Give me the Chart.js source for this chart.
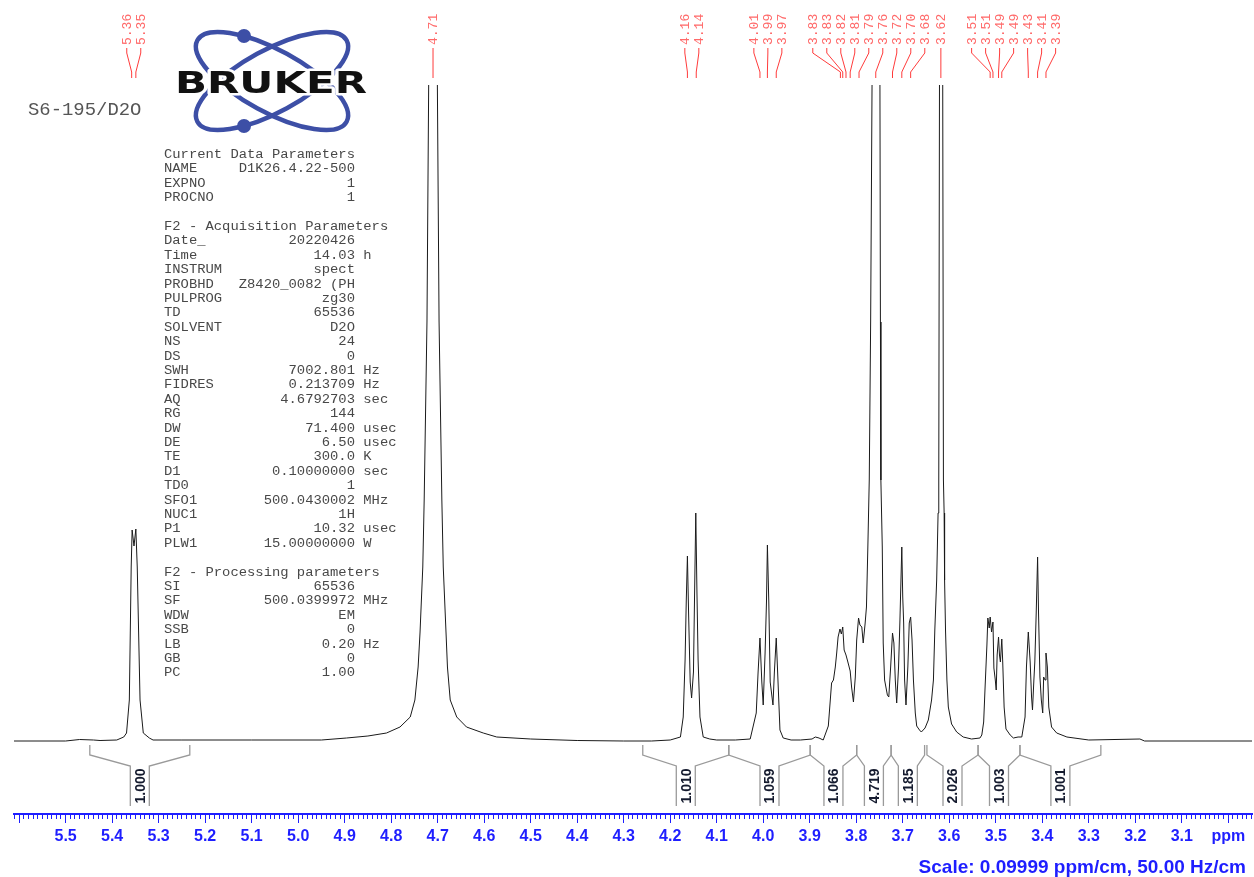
<!DOCTYPE html>
<html>
<head>
<meta charset="utf-8">
<title>S6-195/D2O</title>
<script src="https://cdn.jsdelivr.net/npm/chart.js@4.4.1/dist/chart.umd.min.js"></script>
<style>
  html, body { margin: 0; padding: 0; background: #fff; }
  canvas { display: block; }
</style>
</head>
<body>
<canvas id="nmr" width="1254" height="877"></canvas>
<script>
// 1H trace, [shift (ppm), intensity], left to right
const traceAnomeric = [
  [5.611, 1], [5.50, 1], [5.47, 2.5], [5.44, 2], [5.426, 1.5], [5.390, 2], [5.375, 5], [5.369, 9],
  [5.363, 42], [5.361, 109], [5.359, 175], [5.357, 212], [5.353, 196], [5.349, 213], [5.346, 175],
  [5.343, 109], [5.340, 42], [5.333, 9], [5.320, 4], [5.312, 2], [5.25, 2], [5.10, 2], [4.95, 2]
];
const traceWater = [
  [4.896, 4], [4.850, 6], [4.810, 9], [4.781, 15], [4.759, 25], [4.749, 42], [4.742, 75], [4.738, 109],
  [4.732, 175], [4.729, 242], [4.723, 420], [4.719, 680], [4.714, 1200], [4.710, 1500], [4.706, 1200],
  [4.701, 680], [4.697, 420], [4.691, 242], [4.688, 175], [4.682, 109], [4.679, 75], [4.673, 42],
  [4.659, 25], [4.638, 15], [4.602, 9], [4.573, 5], [4.50, 3], [4.40, 1.5], [4.30, 1]
];
const traceH4 = [
  [4.24, 1], [4.200, 2], [4.178, 5], [4.172, 25], [4.168, 82], [4.1655, 140], [4.163, 186], [4.1605, 130],
  [4.157, 60], [4.154, 44], [4.150, 70], [4.1475, 150], [4.145, 229], [4.1425, 150], [4.140, 82],
  [4.136, 25], [4.129, 5], [4.115, 3], [4.100, 2]
];
const traceH3 = [
  [4.06, 2], [4.028, 3], [4.015, 29], [4.011, 70], [4.007, 104], [4.003, 60], [4.000, 37], [3.996, 89],
  [3.993, 140], [3.991, 197], [3.988, 140], [3.985, 60], [3.979, 37], [3.976, 70], [3.972, 104],
  [3.969, 70], [3.964, 12], [3.957, 4], [3.94, 2], [3.92, 2], [3.895, 3], [3.888, 5], [3.880, 4], [3.871, 2]
];
const traceRing = [
  [3.860, 16], [3.853, 59], [3.849, 62], [3.845, 75], [3.842, 89], [3.839, 105], [3.835, 113], [3.832, 108],
  [3.829, 115], [3.826, 92], [3.822, 87], [3.818, 80], [3.813, 71], [3.810, 55], [3.806, 40], [3.802, 65],
  [3.799, 102], [3.795, 124], [3.792, 117], [3.788, 115], [3.785, 99], [3.781, 118], [3.778, 135],
  [3.775, 195], [3.772, 262], [3.769, 420], [3.766, 657], [3.762, 1300], [3.758, 1500], [3.754, 1300],
  [3.749, 657], [3.748, 420], [3.747, 262], [3.744, 195], [3.742, 99], [3.739, 62], [3.733, 47], [3.730, 45],
  [3.726, 75], [3.722, 109], [3.719, 99], [3.716, 62], [3.713, 39], [3.709, 75], [3.706, 122], [3.702, 195],
  [3.700, 145], [3.698, 119], [3.696, 62], [3.693, 37], [3.689, 75], [3.686, 119], [3.683, 125], [3.680, 102],
  [3.677, 62], [3.673, 29], [3.670, 16], [3.664, 12], [3.660, 10], [3.652, 14], [3.645, 22], [3.638, 42],
  [3.634, 62], [3.631, 112], [3.627, 162], [3.624, 229], [3.6225, 262], [3.621, 657], [3.6175, 1400],
  [3.614, 657], [3.6125, 262], [3.611, 229], [3.610, 162], [3.608, 112], [3.605, 62], [3.602, 35],
  [3.595, 18], [3.584, 10], [3.570, 5], [3.552, 3]
];
const traceH2 = [
  [3.534, 4], [3.530, 7], [3.526, 20], [3.523, 54], [3.519, 97], [3.517, 124], [3.514, 114], [3.512, 125],
  [3.509, 110], [3.506, 120], [3.504, 74], [3.501, 62], [3.499, 52], [3.497, 87], [3.494, 105], [3.492, 87],
  [3.490, 80], [3.487, 103], [3.485, 80], [3.482, 35], [3.478, 13], [3.469, 7], [3.462, 4], [3.452, 5],
  [3.444, 5], [3.437, 25], [3.434, 75], [3.430, 110], [3.428, 95], [3.426, 80], [3.423, 45], [3.421, 32],
  [3.418, 62], [3.416, 80], [3.413, 129], [3.410, 185], [3.408, 129], [3.405, 65], [3.402, 42], [3.399, 29],
  [3.397, 65], [3.394, 62], [3.392, 89], [3.389, 75], [3.386, 35], [3.380, 15], [3.369, 9], [3.347, 5],
  [3.30, 2], [3.19, 3], [3.18, 1], [3.05, 1], [2.949, 1]
];

// peak picking (ppm), high to low
const pickedShifts = [5.358, 5.349, 4.710, 4.163, 4.144, 4.007, 3.991, 3.972,
  3.834, 3.829, 3.822, 3.813, 3.794, 3.758, 3.722, 3.702, 3.683, 3.618,
  3.512, 3.506, 3.494, 3.487, 3.430, 3.410, 3.392];

// integration regions
const integralFrom = [5.448, 4.259, 4.074, 3.899, 3.799, 3.725, 3.648, 3.538, 3.448];
const integralTo = [5.233, 4.074, 3.899, 3.799, 3.725, 3.653, 3.538, 3.448, 3.274];
const integralValue = [1.000, 1.010, 1.059, 1.066, 4.719, 1.185, 2.026, 1.003, 1.001];

// axis
const axisMin = 2.949, axisMax = 5.611;
const axisTicks = [3.0, 3.1, 3.2, 3.3, 3.4, 3.5, 3.6, 3.7, 3.8, 3.9, 4.0, 4.1, 4.2, 4.3,
  4.4, 4.5, 4.6, 4.7, 4.8, 4.9, 5.0, 5.1, 5.2, 5.3, 5.4, 5.5, 5.6];
const minorTicks = [];
for (let k = 295; k <= 561; k++) minorTicks.push(k / 100);

const paramRows = [
  ['Current Data Parameters'],
  ['NAME', 'D1K26.4.22-500'],
  ['EXPNO', '1'],
  ['PROCNO', '1'],
  [],
  ['F2 - Acquisition Parameters'],
  ['Date_', '20220426'],
  ['Time', '14.03', 'h'],
  ['INSTRUM', 'spect'],
  ['PROBHD', 'Z8420_0082 (PH'],
  ['PULPROG', 'zg30'],
  ['TD', '65536'],
  ['SOLVENT', 'D2O'],
  ['NS', '24'],
  ['DS', '0'],
  ['SWH', '7002.801', 'Hz'],
  ['FIDRES', '0.213709', 'Hz'],
  ['AQ', '4.6792703', 'sec'],
  ['RG', '144'],
  ['DW', '71.400', 'usec'],
  ['DE', '6.50', 'usec'],
  ['TE', '300.0', 'K'],
  ['D1', '0.10000000', 'sec'],
  ['TD0', '1'],
  ['SFO1', '500.0430002', 'MHz'],
  ['NUC1', '1H'],
  ['P1', '10.32', 'usec'],
  ['PLW1', '15.00000000', 'W'],
  [],
  ['F2 - Processing parameters'],
  ['SI', '65536'],
  ['SF', '500.0399972', 'MHz'],
  ['WDW', 'EM'],
  ['SSB', '0'],
  ['LB', '0.20', 'Hz'],
  ['GB', '0'],
  ['PC', '1.00']
];

const axisBlue = '#1e1eff';
const trace = [].concat(traceAnomeric, traceWater, traceH4, traceH3, traceRing, traceH2)
  .map(([x, y]) => ({ x, y }));

// spread crowded peak labels apart, keeping each cluster centred on its peaks
function spreadLabels(xs, gap) {
  let groups = xs.map((x, i) => ({ items: [i], center: x }));
  let merged = true;
  while (merged) {
    merged = false;
    for (let g = 0; g < groups.length - 1; g++) {
      const a = groups[g], b = groups[g + 1];
      const aRight = a.center + (a.items.length - 1) * gap / 2;
      const bLeft = b.center - (b.items.length - 1) * gap / 2;
      if (bLeft - aRight < gap) {
        const items = a.items.concat(b.items);
        const center = items.reduce((s, i) => s + xs[i], 0) / items.length;
        groups.splice(g, 2, { items, center });
        merged = true;
        break;
      }
    }
  }
  const out = [];
  groups.forEach(g => g.items.forEach((i, k) => {
    out[i] = g.center + (k - (g.items.length - 1) / 2) * gap;
  }));
  return out;
}

function drawLogo(ctx) {
  ctx.save();
  ctx.strokeStyle = '#3d4fa6';
  ctx.fillStyle = '#3d4fa6';
  ctx.lineWidth = 4.5;
  [0.5, -0.5].forEach(rot => {
    ctx.beginPath();
    ctx.ellipse(272, 81, 85, 31, rot, 0, Math.PI * 2);
    ctx.stroke();
  });
  ctx.beginPath(); ctx.arc(244, 36, 7, 0, Math.PI * 2); ctx.fill();
  ctx.beginPath(); ctx.arc(244, 126, 7, 0, Math.PI * 2); ctx.fill();

  ctx.font = 'bold 31px "DejaVu Sans", sans-serif';
  const w = ctx.measureText('BRUKER').width;
  ctx.translate(175, 93);
  ctx.scale(192 / w, 1);
  ctx.lineJoin = 'round';
  ctx.lineWidth = 5;
  ctx.strokeStyle = '#fff';
  ctx.strokeText('BRUKER', 0, 0);
  ctx.fillStyle = '#111';
  ctx.fillText('BRUKER', 0, 0);
  ctx.restore();
}

function drawParameters(ctx) {
  ctx.save();
  ctx.fillStyle = '#555';
  ctx.font = '18px "Liberation Mono", monospace';
  ctx.translate(28, 115);
  ctx.scale(1.05, 1);
  ctx.fillText('S6-195/D2O', 0, 0);
  ctx.restore();

  ctx.save();
  ctx.fillStyle = '#484848';
  ctx.font = '12px "Liberation Mono", monospace';
  paramRows.forEach((row, i) => {
    if (!row.length) return;
    let line = row[0];
    if (row.length > 1) {
      line += ' '.repeat(Math.max(1, 23 - row[0].length - row[1].length)) + row[1];
      if (row[2]) line += ' ' + row[2];
    }
    ctx.save();
    ctx.translate(164, 158 + i * 14.4);
    ctx.scale(1.153, 1);
    ctx.fillText(line, 0, 0);
    ctx.restore();
  });
  ctx.restore();
}

function drawPeakLabels(chart) {
  const ctx = chart.ctx;
  const sx = chart.scales.x;
  const xs = pickedShifts.map(v => sx.getPixelForValue(v));
  const lx = spreadLabels(xs, 14);
  ctx.save();
  ctx.strokeStyle = '#ff3b3b';
  ctx.lineWidth = 1;
  xs.forEach((x, i) => {
    ctx.beginPath();
    ctx.moveTo(lx[i], 48);
    ctx.lineTo(lx[i], 53);
    ctx.lineTo(x, 72);
    ctx.lineTo(x, 78);
    ctx.stroke();
  });
  ctx.fillStyle = '#ff6a6a';
  ctx.font = '13px "Liberation Mono", monospace';
  ctx.textAlign = 'left';
  ctx.textBaseline = 'middle';
  lx.forEach((x, i) => {
    ctx.save();
    ctx.translate(x, 45);
    ctx.rotate(-Math.PI / 2);
    ctx.fillText(pickedShifts[i].toFixed(2), 0, 0.5);
    ctx.restore();
  });
  ctx.restore();
}

function drawIntegrals(chart) {
  const ctx = chart.ctx;
  const sx = chart.scales.x;
  ctx.save();
  ctx.strokeStyle = '#9a9a9a';
  ctx.lineWidth = 1.3;
  integralFrom.forEach((from, i) => {
    const x1 = sx.getPixelForValue(from);
    const x2 = sx.getPixelForValue(integralTo[i]);
    const mid = (x1 + x2) / 2, half = 9.5;
    ctx.beginPath();
    ctx.moveTo(x1, 745); ctx.lineTo(x1, 755); ctx.lineTo(mid - half, 766); ctx.lineTo(mid - half, 806);
    ctx.moveTo(x2, 745); ctx.lineTo(x2, 755); ctx.lineTo(mid + half, 766); ctx.lineTo(mid + half, 806);
    ctx.stroke();
    ctx.save();
    ctx.translate(mid, 786);
    ctx.rotate(-Math.PI / 2);
    ctx.fillStyle = '#141a2e';
    ctx.font = 'bold 14px "Liberation Sans", Arial, sans-serif';
    ctx.textAlign = 'center';
    ctx.textBaseline = 'middle';
    ctx.fillText(integralValue[i].toFixed(3), 0, 1);
    ctx.restore();
  });
  ctx.restore();
}

const decorations = {
  id: 'decorations',
  afterDraw(chart) {
    const ctx = chart.ctx;
    drawLogo(ctx);
    drawParameters(ctx);
    drawPeakLabels(chart);
    drawIntegrals(chart);
    ctx.save();
    ctx.font = 'bold 19px "Liberation Sans", Arial, sans-serif';
    ctx.fillStyle = axisBlue;
    ctx.textAlign = 'right';
    ctx.fillText('Scale: 0.09999 ppm/cm, 50.00 Hz/cm', 1246, 873);
    ctx.restore();
  }
};

new Chart(document.getElementById('nmr'), {
  type: 'line',
  data: {
    datasets: [{
      data: trace,
      borderColor: '#1a1a1a',
      borderWidth: 1,
      pointRadius: 0,
      tension: 0,
      fill: false
    }]
  },
  options: {
    responsive: false,
    animation: false,
    devicePixelRatio: 1,
    layout: { padding: { top: 85, left: 14, right: 2, bottom: 0 } },
    plugins: { legend: { display: false }, tooltip: { enabled: false } },
    scales: {
      x: {
        type: 'linear',
        reverse: true,
        min: axisMin,
        max: axisMax,
        afterBuildTicks: s => { s.ticks = axisTicks.map(v => ({ value: v })); },
        afterFit: s => { s.height = 63; },
        grid: { drawOnChartArea: false, drawTicks: true, tickLength: 9, tickColor: axisBlue, tickWidth: 1 },
        border: { display: true, color: axisBlue, width: 2 },
        ticks: {
          autoSkip: false,
          maxRotation: 0,
          padding: 4,
          color: axisBlue,
          font: { family: '"Liberation Sans", Arial, sans-serif', size: 16, weight: 'bold' },
          callback: v => {
            if (Math.abs(v - 3.0) < 1e-6) return 'ppm';
            if (Math.abs(v - 5.6) < 1e-6) return '';
            return v.toFixed(1);
          }
        }
      },
      minor: {
        type: 'linear',
        axis: 'x',
        reverse: true,
        min: axisMin,
        max: axisMax,
        position: { y: -72 },
        afterBuildTicks: s => { s.ticks = minorTicks.map(v => ({ value: v })); },
        grid: { drawOnChartArea: false, drawTicks: true, tickLength: 5, tickColor: axisBlue, tickWidth: 1 },
        border: { display: false },
        ticks: { display: false }
      },
      y: { display: false, min: -72, max: 657 }
    }
  },
  plugins: [decorations]
});
</script>
</body>
</html>
